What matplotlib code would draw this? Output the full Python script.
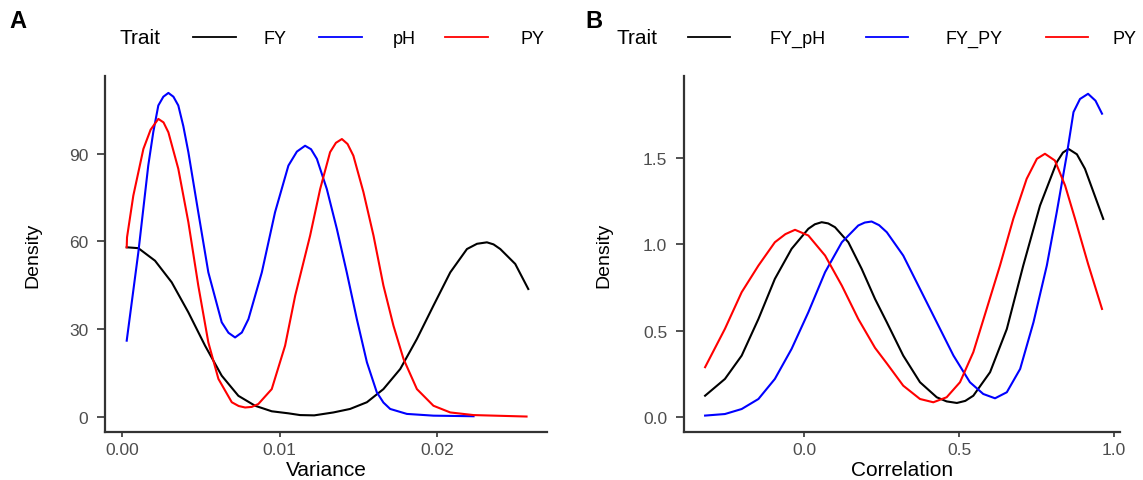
import matplotlib
matplotlib.use("Agg")
import matplotlib.pyplot as plt
from matplotlib.lines import Line2D

plt.rcParams['font.family'] = ['Liberation Sans', 'DejaVu Sans']

# ---------------- Data ----------------
# Panel A: density of variance
traits_A = ["FY", "pH", "PY"]
colors = ["#000000", "#0000FF", "#FF0000"]

fy_var_x = [0.00028, 0.00102, 0.00208, 0.00314, 0.00420, 0.00526, 0.00632, 0.00738,
            0.00844, 0.00950, 0.01056, 0.01130, 0.01220, 0.01342, 0.01448, 0.01555,
            0.01660, 0.01767, 0.01873, 0.01978, 0.02085, 0.02191, 0.02255, 0.02318,
            0.02360, 0.02403, 0.02498, 0.02581]
fy_var_y = [58.0, 57.7, 53.4, 46.0, 35.7, 24.3, 14.0, 7.1,
            3.7, 1.8, 1.1, 0.5, 0.4, 1.4, 2.6, 4.9,
            9.4, 16.3, 26.6, 38.0, 49.4, 57.4, 59.2, 59.7,
            59.0, 57.4, 52.3, 43.7]

ph_var_x = [0.00028, 0.00102, 0.00165, 0.00197, 0.00229, 0.00261, 0.00293, 0.00325,
            0.00356, 0.00388, 0.00420, 0.00483, 0.00547, 0.00632, 0.00675, 0.00717,
            0.00760, 0.00802, 0.00887, 0.00971, 0.01056, 0.01110, 0.01162, 0.01200,
            0.01237, 0.01300, 0.01364, 0.01427, 0.01491, 0.01555, 0.01618, 0.01660,
            0.01703, 0.01809, 0.01978, 0.02233]
ph_var_y = [26.0, 56.3, 86.0, 97.5, 106.6, 109.6, 110.9, 109.6,
            106.6, 99.5, 90.6, 70.0, 49.4, 32.3, 28.7, 27.1,
            28.8, 33.4, 49.4, 70.0, 86.0, 90.8, 92.8, 91.6,
            88.3, 78.0, 64.3, 49.4, 33.4, 18.6, 8.3, 4.8,
            2.6, 0.9, 0.3, 0.1]

py_var_x = [0.00028, 0.00030, 0.00070, 0.00134, 0.00180, 0.00229, 0.00262, 0.00293,
            0.00356, 0.00420, 0.00483, 0.00547, 0.00611, 0.00696, 0.00740, 0.00781,
            0.00823, 0.00865, 0.00950, 0.01035, 0.01099, 0.01194, 0.01258, 0.01321,
            0.01358, 0.01396, 0.01432, 0.01469, 0.01533, 0.01597, 0.01660, 0.01724,
            0.01788, 0.01873, 0.01978, 0.02085, 0.02233, 0.02570]
py_var_y = [58.0, 61.4, 75.7, 91.7, 98.3, 102.0, 100.8, 97.4,
            84.9, 66.6, 44.9, 25.4, 12.9, 4.9, 3.6, 3.1,
            3.3, 4.3, 9.4, 24.3, 41.4, 62.0, 78.0, 90.6,
            93.8, 95.1, 93.4, 89.4, 76.9, 62.0, 44.9, 31.1,
            19.7, 9.4, 3.7, 1.4, 0.5, 0.0]

# Panel B: density of correlation
traits_B = ["FY_pH", "FY_PY", "PY"]

fyph_cor_x = [-0.319, -0.255, -0.201, -0.147, -0.094, -0.040, 0.014, 0.035, 0.057,
              0.078, 0.100, 0.143, 0.186, 0.229, 0.267, 0.320, 0.374, 0.428, 0.460,
              0.493, 0.520, 0.546, 0.600, 0.654, 0.707, 0.761, 0.815, 0.835, 0.853,
              0.880, 0.906, 0.965]
fyph_cor_y = [0.123, 0.220, 0.355, 0.567, 0.799, 0.973, 1.089, 1.115, 1.127,
              1.120, 1.098, 1.011, 0.857, 0.683, 0.548, 0.355, 0.201, 0.114, 0.090,
              0.081, 0.093, 0.123, 0.259, 0.509, 0.876, 1.223, 1.474, 1.530, 1.551,
              1.520, 1.436, 1.146]

fypy_cor_x = [-0.319, -0.255, -0.201, -0.147, -0.094, -0.040, 0.014, 0.068, 0.122,
              0.175, 0.196, 0.218, 0.242, 0.267, 0.320, 0.374, 0.428, 0.482, 0.535,
              0.578, 0.616, 0.654, 0.697, 0.740, 0.783, 0.815, 0.847, 0.869, 0.890,
              0.916, 0.940, 0.961]
fypy_cor_y = [0.008, 0.017, 0.046, 0.104, 0.220, 0.394, 0.606, 0.838, 1.011,
              1.108, 1.125, 1.131, 1.110, 1.069, 0.934, 0.741, 0.548, 0.355, 0.201,
              0.133, 0.108, 0.143, 0.278, 0.548, 0.876, 1.185, 1.513, 1.764, 1.840,
              1.870, 1.830, 1.755]

py_cor_x = [-0.319, -0.255, -0.201, -0.147, -0.094, -0.060, -0.029, 0.014, 0.068,
            0.122, 0.175, 0.229, 0.267, 0.320, 0.374, 0.417, 0.460, 0.503, 0.546,
            0.589, 0.632, 0.675, 0.718, 0.751, 0.777, 0.809, 0.842, 0.874, 0.916,
            0.961]
py_cor_y = [0.288, 0.510, 0.722, 0.876, 1.011, 1.058, 1.083, 1.050, 0.934,
            0.760, 0.567, 0.400, 0.310, 0.181, 0.104, 0.085, 0.114, 0.201, 0.375,
            0.625, 0.876, 1.147, 1.378, 1.494, 1.523, 1.484, 1.339, 1.147, 0.886,
            0.625]

xticks_A = [0.00, 0.01, 0.02]
xticklabels_A = ["0.00", "0.01", "0.02"]
yticks_A = [0, 30, 60, 90]
yticklabels_A = ["0", "30", "60", "90"]
xticks_B = [0.0, 0.5, 1.0]
xticklabels_B = ["0.0", "0.5", "1.0"]
yticks_B = [0.0, 0.5, 1.0, 1.5]
yticklabels_B = ["0.0", "0.5", "1.0", "1.5"]

# ---------------- Figure ----------------
W, H = 1143, 481
fig = plt.figure(figsize=(W / 100, H / 100), dpi=100)


def fx(px):
    return px / W


def fyc(py):
    return 1 - py / H


axA = fig.add_axes([fx(105), fyc(433), 442 / W, 356 / H])
axB = fig.add_axes([fx(684), fyc(433), 436 / W, 356 / H])

seriesA = [(fy_var_x, fy_var_y), (ph_var_x, ph_var_y), (py_var_x, py_var_y)]
seriesB = [(fyph_cor_x, fyph_cor_y), (fypy_cor_x, fypy_cor_y), (py_cor_x, py_cor_y)]

for (x, y), c in zip(seriesA, colors):
    axA.plot(x, y, color=c, lw=1.5, solid_joinstyle='round')
for (x, y), c in zip(seriesB, colors):
    axB.plot(x, y, color=c, lw=1.5, solid_joinstyle='round')

axA.set_xlim(-0.0011, 0.0270)
axA.set_ylim(-5.3, 116.7)
axB.set_xlim(-0.387, 1.019)
axB.set_ylim(-0.087, 1.973)

axA.set_xticks(xticks_A, xticklabels_A)
axA.set_yticks(yticks_A, yticklabels_A)
axB.set_xticks(xticks_B, xticklabels_B)
axB.set_yticks(yticks_B, yticklabels_B)

for ax, xl, ylx in [(axA, "Variance", -0.143), (axB, "Correlation", -0.165)]:
    for s in ["top", "right"]:
        ax.spines[s].set_visible(False)
    for s in ["left", "bottom"]:
        ax.spines[s].set_color("#333333")
        ax.spines[s].set_linewidth(1.6)
    ax.tick_params(axis="y", length=6, width=1.2, color="#333333", pad=6,
                   labelsize=12.5, labelcolor="#4D4D4D")
    ax.tick_params(axis="x", length=3.5, width=1.2, color="#333333", pad=4,
                   labelsize=12.5, labelcolor="#4D4D4D")
    ax.set_xlabel(xl, fontsize=15)
    ax.xaxis.set_label_coords(0.5, -0.078)
    ax.set_ylabel("Density", fontsize=14)
    ax.yaxis.set_label_coords(ylx, 0.5)

# ---------------- Legends (manual, ggplot-style on top) ----------------
ly = 38


def legend_row(title_cx, items, labels):
    fig.text(fx(title_cx), fyc(ly + 1), "Trait", fontsize=15, ha="center", va="center")
    for (k0, k1, lx, ha), lab, c in zip(items, labels, colors):
        fig.add_artist(Line2D([fx(k0), fx(k1)], [fyc(ly), fyc(ly)],
                              transform=fig.transFigure, color=c, lw=1.3))
        fig.text(fx(lx), fyc(ly + 1), lab, fontsize=13, ha=ha, va="center")


legend_row(140, [(193, 236, 275, "center"), (319, 362, 404, "center"),
                 (445, 488, 533, "center")], traits_A)
legend_row(637, [(688, 730, 798, "center"), (866, 908, 974, "center"),
                 (1046, 1088, 1113, "left")], traits_B)

fig.text(fx(9), fyc(22), "A", fontsize=17, fontweight="bold", ha="left", va="center")
fig.text(fx(585), fyc(22), "B", fontsize=17, fontweight="bold", ha="left", va="center")

fig.savefig("out.png", dpi=100)
